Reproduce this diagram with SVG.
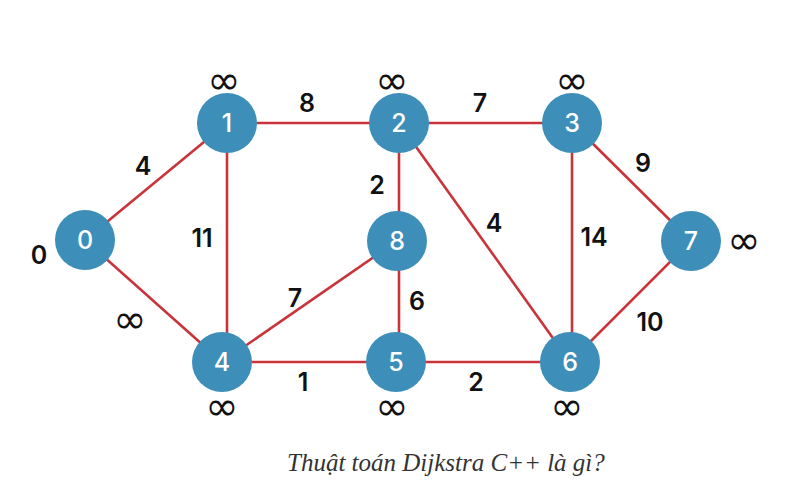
<svg xmlns="http://www.w3.org/2000/svg" width="790" height="504" viewBox="0 0 790 504">
<style>
.edge{stroke:#c9343b;stroke-width:2.6;fill:none}
.node circle{fill:#3d8fba}
.node text{fill:#ffffff;font-family:Inter,"Open Sans",sans-serif;font-weight:500;font-size:25px;text-anchor:middle;dominant-baseline:central}
.w{fill:#111111;font-family:Inter,"Open Sans",sans-serif;font-weight:600;font-size:25px;text-anchor:middle;dominant-baseline:central}
.inf{fill:#111111;font-family:"DejaVu Sans",sans-serif;font-size:40px;text-anchor:middle;dominant-baseline:central}
.cap{fill:#333333;font-family:"Liberation Serif","DejaVu Serif",serif;font-style:italic;font-size:25px}
</style>
<rect width="790" height="504" fill="#ffffff"/>
<g id="connectors">
<line class="edge" x1="85" y1="240" x2="227" y2="123"/>
<line class="edge" x1="85" y1="240" x2="222" y2="362"/>
<line class="edge" x1="227" y1="123" x2="399" y2="123"/>
<line class="edge" x1="227" y1="123" x2="227" y2="362"/>
<line class="edge" x1="399" y1="123" x2="572" y2="123"/>
<line class="edge" x1="399" y1="123" x2="399" y2="362"/>
<line class="edge" x1="399" y1="123" x2="570" y2="362"/>
<line class="edge" x1="572" y1="123" x2="691" y2="241"/>
<line class="edge" x1="572" y1="123" x2="572" y2="362"/>
<line class="edge" x1="691" y1="241" x2="570" y2="362"/>
<line class="edge" x1="222" y1="362" x2="397" y2="241"/>
<line class="edge" x1="222" y1="362" x2="396" y2="362"/>
<line class="edge" x1="396" y1="362" x2="570" y2="362"/>
</g>
<g id="node0" class="node"><circle cx="85" cy="240" r="30"/><text x="85" y="240">0</text></g>
<g id="node1" class="node"><circle cx="227" cy="123" r="30"/><text x="227" y="123">1</text></g>
<g id="node2" class="node"><circle cx="399" cy="123" r="30"/><text x="399" y="123">2</text></g>
<g id="node3" class="node"><circle cx="572" cy="123" r="30"/><text x="572" y="123">3</text></g>
<g id="node7" class="node"><circle cx="691" cy="241" r="30"/><text x="691" y="241">7</text></g>
<g id="node8" class="node"><circle cx="397" cy="241" r="30"/><text x="397" y="241">8</text></g>
<g id="node4" class="node"><circle cx="222" cy="362" r="30"/><text x="222" y="362">4</text></g>
<g id="node5" class="node"><circle cx="396" cy="362" r="30"/><text x="396" y="362">5</text></g>
<g id="node6" class="node"><circle cx="570" cy="362" r="30"/><text x="570" y="362">6</text></g>
<g id="weights">
<text class="w" x="143" y="166">4</text>
<text class="w" x="202" y="238">11</text>
<text class="w" x="307" y="103">8</text>
<text class="w" x="480" y="103">7</text>
<text class="w" x="377" y="185">2</text>
<text class="w" x="494" y="223">4</text>
<text class="w" x="594" y="237">14</text>
<text class="w" x="643" y="163">9</text>
<text class="w" x="650" y="322">10</text>
<text class="w" x="295" y="298">7</text>
<text class="w" x="417" y="301">6</text>
<text class="w" x="303" y="382">1</text>
<text class="w" x="476" y="382">2</text>
</g>
<g id="distances">
<text class="w" x="39" y="255">0</text>
<text class="inf" x="224" y="80">∞</text>
<text class="inf" x="392" y="80">∞</text>
<text class="inf" x="572" y="80">∞</text>
<text class="inf" x="744" y="240">∞</text>
<text class="inf" x="130" y="319">∞</text>
<text class="inf" x="222" y="406">∞</text>
<text class="inf" x="392" y="406">∞</text>
<text class="inf" x="567" y="406">∞</text>
</g>
<text class="cap" x="287" y="471">Thuật toán Dijkstra C++ là gì?</text>
</svg>
